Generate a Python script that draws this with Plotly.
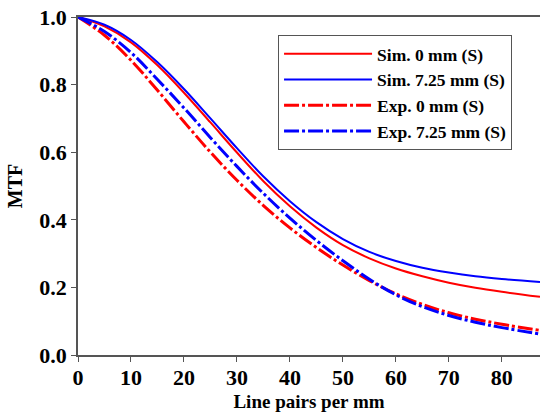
import plotly.graph_objects as go

x = [0, 5, 10, 15, 20, 25, 30, 35, 40, 45, 50, 55, 60, 65, 70, 75, 80, 87.2]

sim_0 = [1.0, 0.972, 0.925, 0.857, 0.776, 0.688, 0.599, 0.514, 0.440, 0.377, 0.325, 0.286, 0.256, 0.233, 0.214, 0.199, 0.187, 0.172]
sim_725 = [1.0, 0.977, 0.932, 0.866, 0.787, 0.700, 0.612, 0.528, 0.455, 0.393, 0.343, 0.305, 0.278, 0.258, 0.244, 0.233, 0.225, 0.216]
exp_0 = [1.0, 0.946, 0.872, 0.783, 0.690, 0.600, 0.517, 0.442, 0.376, 0.318, 0.266, 0.220, 0.181, 0.150, 0.125, 0.106, 0.091, 0.073]
exp_725 = [1.0, 0.957, 0.895, 0.815, 0.731, 0.643, 0.558, 0.478, 0.405, 0.339, 0.279, 0.224, 0.178, 0.143, 0.117, 0.097, 0.081, 0.062]

names = ["Sim. 0 mm (S)", "Sim. 7.25 mm (S)", "Exp. 0 mm (S)", "Exp. 7.25 mm (S)"]

RED = "#ff0000"
BLUE = "#0000ff"
DD = "15px,3px,3px,3px"

fig = go.Figure()
fig.add_trace(go.Scatter(x=x, y=sim_0, name=names[0], mode="lines", line_shape="spline",
                         line=dict(color=RED, width=2)))
fig.add_trace(go.Scatter(x=x, y=sim_725, name=names[1], mode="lines", line_shape="spline",
                         line=dict(color=BLUE, width=2)))
fig.add_trace(go.Scatter(x=x, y=exp_0, name=names[2], mode="lines", line_shape="spline",
                         line=dict(color=RED, width=3, dash=DD)))
fig.add_trace(go.Scatter(x=x, y=exp_725, name=names[3], mode="lines", line_shape="spline",
                         line=dict(color=BLUE, width=3, dash=DD)))

font_family = "Liberation Serif"
fig.update_layout(
    width=540, height=413,
    margin=dict(l=78, r=0, t=17, b=58),
    paper_bgcolor="white", plot_bgcolor="white",
    font=dict(family=font_family, color="black"),
    showlegend=True,
    legend=dict(
        x=0.433, y=0.947, xanchor="left", yanchor="top",
        bgcolor="white", bordercolor="#555555", borderwidth=1,
        font=dict(family=font_family, size=17.5, color="black", weight="bold"),
        itemwidth=88, tracegroupgap=0,
    ),
    xaxis=dict(
        range=[0, 87.2], tickvals=[0, 10, 20, 30, 40, 50, 60, 70, 80],
        showgrid=False, zeroline=False,
        showline=True, linecolor="#555555", linewidth=1.5, mirror=True,
        ticks="outside", ticklen=5, tickcolor="#555555",
        ticklabelstandoff=-3,
        tickfont=dict(family=font_family, size=22, weight="bold"),
        title=dict(text="Line pairs per mm", font=dict(family=font_family, size=19, weight="bold"), standoff=6),
    ),
    yaxis=dict(
        range=[0, 1.0], tickvals=[0, 0.2, 0.4, 0.6, 0.8, 1.0], tickformat=".1f",
        showgrid=False, zeroline=False,
        showline=True, linecolor="#555555", linewidth=1.5, mirror=False,
        ticks="outside", ticklen=5, tickcolor="#555555",
        tickfont=dict(family=font_family, size=22, weight="bold"),
        title=dict(text="MTF", font=dict(family=font_family, size=20, weight="bold"), standoff=11),
    ),
)

fig.write_html("out.html")
